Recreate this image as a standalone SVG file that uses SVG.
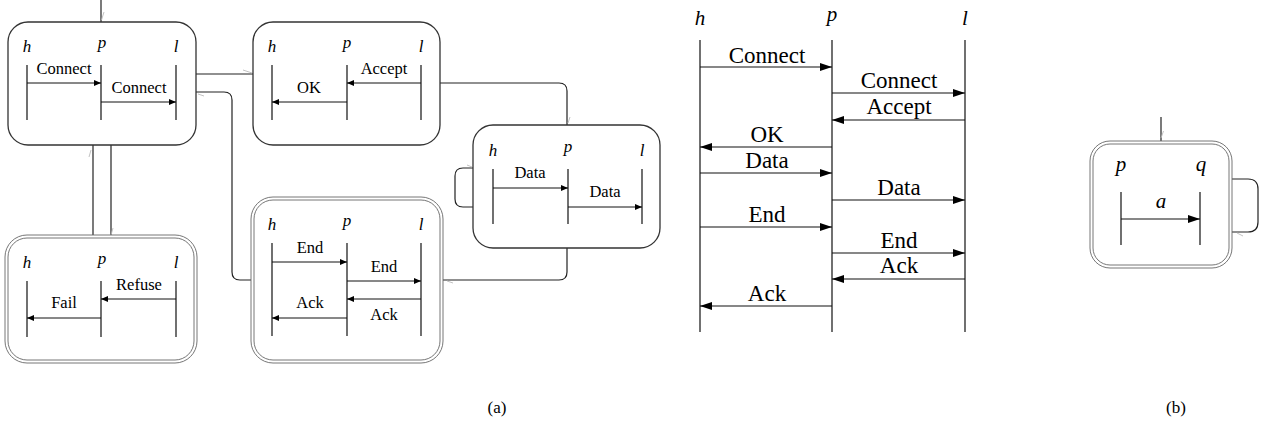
<svg xmlns="http://www.w3.org/2000/svg" width="1268" height="423" viewBox="0 0 1268 423" font-family="'Liberation Serif', 'Times New Roman', 'DejaVu Serif', serif">
  <defs>
    <marker id="ahS" markerUnits="userSpaceOnUse" markerWidth="8" markerHeight="6" refX="7" refY="3" orient="auto">
      <path d="M0,0 L7,3 L0,6 Z" fill="#000"/>
    </marker>
    <marker id="ahL" markerUnits="userSpaceOnUse" markerWidth="13" markerHeight="9" refX="12" refY="4" orient="auto">
      <path d="M0,0 L12,4 L0,8 Z" fill="#000"/>
    </marker>
    <style>
      .box { fill: #fff; stroke: #333; stroke-width: 1.3; }
      .fin { fill: none; stroke: #666; stroke-width: 0.9; }
      .life { stroke: #111; stroke-width: 1.2; }
      .msg { stroke: #111; stroke-width: 1; marker-end: url(#ahS); }
      .msgL { stroke: #111; stroke-width: 1.1; marker-end: url(#ahL); }
      .conn { fill: none; stroke: #222; stroke-width: 1.2; }
      .tip { stroke: #bbb; stroke-width: 0.9; }
      text { font-family: 'Liberation Serif', 'Times New Roman', 'DejaVu Serif', serif; fill: #000; text-anchor: middle; }
      .lbl { font-size: 16.5px; }
      .lblL { font-size: 23px; }
      .var { font-style: italic; font-size: 17px; }
      .varL { font-style: italic; font-size: 21px; }
      .cap { font-size: 17px; }
    </style>
  </defs>

  <!-- transitions between states -->
  <g id="connectors">
    <path class="conn" d="M101,0 V22"/>
    <line class="tip" x1="104" y1="12" x2="101.5" y2="20"/>
    <path class="conn" d="M196,74 H253"/>
    <line class="tip" x1="243" y1="70" x2="252" y2="73"/>
    <path class="conn" d="M196,92 H224 Q232,92 232,100 V272 Q232,280 240,280 H251"/>
    <line class="tip" x1="198" y1="94" x2="204" y2="96"/>
    <path class="conn" d="M440,83 H559 Q567,83 567,91 V125"/>
    <line class="tip" x1="570" y1="117" x2="568" y2="123"/>
    <path class="conn" d="M567,248 V272 Q567,280 559,280 H443"/>
    <line class="tip" x1="447" y1="281" x2="453" y2="283"/>
    <path class="conn" d="M93,145 V235"/>
    <line class="tip" x1="89" y1="157" x2="91" y2="150"/>
    <path class="conn" d="M111,145 V235"/>
    <line class="tip" x1="113" y1="228" x2="111" y2="235"/>
    <path class="conn" d="M473,168 H463 Q455,168 455,176 V199 Q455,207 463,207 H473"/>
    <line class="tip" x1="467" y1="165" x2="472" y2="167"/>
    <path class="conn" d="M1161,117 V141"/>
    <line class="tip" x1="1163.5" y1="131" x2="1161" y2="138"/>
    <path class="conn" d="M1232,179 H1248 Q1258,179 1258,189 V222 Q1258,232 1248,232 H1232"/>
    <line class="tip" x1="1237" y1="233" x2="1243" y2="236"/>
  </g>

  <!-- state: Connect / Connect -->
  <g id="state-connect">
    <rect class="box" x="8" y="22" width="188" height="123" rx="20"/>
    <text class="var" x="27" y="52">h</text>
    <text class="var" x="102" y="48">p</text>
    <text class="var" x="176" y="52">l</text>
    <line class="life" x1="27" y1="65" x2="27" y2="120"/>
    <line class="life" x1="101" y1="65" x2="101" y2="120"/>
    <line class="life" x1="176" y1="65" x2="176" y2="120"/>
    <line class="msg" x1="27" y1="83" x2="101" y2="83"/>
    <text class="lbl" x="64" y="74">Connect</text>
    <line class="msg" x1="101" y1="102" x2="176" y2="102"/>
    <text class="lbl" x="139" y="93">Connect</text>
  </g>

  <!-- state: Accept / OK -->
  <g id="state-accept">
    <rect class="box" x="253" y="22" width="187" height="123" rx="20"/>
    <text class="var" x="272" y="52">h</text>
    <text class="var" x="347" y="48">p</text>
    <text class="var" x="421" y="52">l</text>
    <line class="life" x1="272" y1="65" x2="272" y2="120"/>
    <line class="life" x1="347" y1="65" x2="347" y2="120"/>
    <line class="life" x1="421" y1="65" x2="421" y2="120"/>
    <line class="msg" x1="421" y1="83" x2="347" y2="83"/>
    <text class="lbl" x="384" y="74">Accept</text>
    <line class="msg" x1="347" y1="102" x2="272" y2="102"/>
    <text class="lbl" x="309" y="93">OK</text>
  </g>

  <!-- state: Data / Data -->
  <g id="state-data">
    <rect class="box" x="473" y="125" width="187" height="123" rx="20"/>
    <text class="var" x="493" y="156">h</text>
    <text class="var" x="568" y="152">p</text>
    <text class="var" x="642" y="156">l</text>
    <line class="life" x1="493" y1="169" x2="493" y2="224"/>
    <line class="life" x1="568" y1="169" x2="568" y2="224"/>
    <line class="life" x1="642" y1="169" x2="642" y2="224"/>
    <line class="msg" x1="493" y1="188" x2="568" y2="188"/>
    <text class="lbl" x="530" y="178">Data</text>
    <line class="msg" x1="568" y1="207" x2="642" y2="207"/>
    <text class="lbl" x="605" y="197">Data</text>
  </g>

  <!-- final state: Refuse / Fail -->
  <g id="state-fail">
    <rect class="fin" x="5" y="235" width="192" height="128" rx="22"/>
    <rect class="fin" x="8" y="238" width="186" height="122" rx="19"/>
    <text class="var" x="27" y="268">h</text>
    <text class="var" x="102" y="264">p</text>
    <text class="var" x="176" y="268">l</text>
    <line class="life" x1="27" y1="281" x2="27" y2="337"/>
    <line class="life" x1="101" y1="281" x2="101" y2="337"/>
    <line class="life" x1="176" y1="281" x2="176" y2="337"/>
    <line class="msg" x1="176" y1="299" x2="101" y2="299"/>
    <text class="lbl" x="139" y="290">Refuse</text>
    <line class="msg" x1="101" y1="318" x2="27" y2="318"/>
    <text class="lbl" x="64" y="308">Fail</text>
  </g>

  <!-- final state: End / End / Ack / Ack -->
  <g id="state-end">
    <rect class="fin" x="251" y="197" width="192" height="166" rx="22"/>
    <rect class="fin" x="254" y="200" width="186" height="160" rx="19"/>
    <text class="var" x="272" y="230">h</text>
    <text class="var" x="347" y="226">p</text>
    <text class="var" x="421" y="230">l</text>
    <line class="life" x1="272" y1="243" x2="272" y2="336"/>
    <line class="life" x1="347" y1="243" x2="347" y2="336"/>
    <line class="life" x1="421" y1="243" x2="421" y2="336"/>
    <line class="msg" x1="272" y1="262" x2="347" y2="262"/>
    <text class="lbl" x="310" y="253">End</text>
    <line class="msg" x1="347" y1="281" x2="421" y2="281"/>
    <text class="lbl" x="384" y="272">End</text>
    <line class="msg" x1="421" y1="299" x2="347" y2="299"/>
    <text class="lbl" x="384" y="320">Ack</text>
    <line class="msg" x1="347" y1="318" x2="272" y2="318"/>
    <text class="lbl" x="310" y="308">Ack</text>
  </g>

  <!-- full message sequence chart -->
  <g id="sequence">
    <text class="varL" x="700" y="25">h</text>
    <text class="varL" x="832" y="21">p</text>
    <text class="varL" x="965" y="25">l</text>
    <line class="life" x1="700" y1="40" x2="700" y2="332"/>
    <line class="life" x1="832" y1="40" x2="832" y2="332"/>
    <line class="life" x1="965" y1="40" x2="965" y2="332"/>
    <line class="msgL" x1="700" y1="67" x2="832" y2="67"/>
    <text class="lblL" x="767" y="63">Connect</text>
    <line class="msgL" x1="832" y1="93" x2="965" y2="93"/>
    <text class="lblL" x="899" y="88">Connect</text>
    <line class="msgL" x1="965" y1="120" x2="832" y2="120"/>
    <text class="lblL" x="899" y="114">Accept</text>
    <line class="msgL" x1="832" y1="147" x2="700" y2="147"/>
    <text class="lblL" x="767" y="142">OK</text>
    <line class="msgL" x1="700" y1="173" x2="832" y2="173"/>
    <text class="lblL" x="767" y="168">Data</text>
    <line class="msgL" x1="832" y1="200" x2="965" y2="200"/>
    <text class="lblL" x="899" y="195">Data</text>
    <line class="msgL" x1="700" y1="227" x2="832" y2="227"/>
    <text class="lblL" x="767" y="222">End</text>
    <line class="msgL" x1="832" y1="253" x2="965" y2="253"/>
    <text class="lblL" x="899" y="248">End</text>
    <line class="msgL" x1="965" y1="279" x2="832" y2="279"/>
    <text class="lblL" x="899" y="273">Ack</text>
    <line class="msgL" x1="832" y1="306" x2="700" y2="306"/>
    <text class="lblL" x="767" y="301">Ack</text>
  </g>

  <!-- single-message state with self loop -->
  <g id="state-a">
    <rect class="fin" x="1090" y="141" width="142" height="127" rx="20"/>
    <rect class="fin" x="1093" y="144" width="136" height="121" rx="17"/>
    <text class="varL" x="1121" y="171">p</text>
    <text class="varL" x="1201" y="171">q</text>
    <line class="life" x1="1121" y1="192" x2="1121" y2="245"/>
    <line class="life" x1="1200" y1="192" x2="1200" y2="245"/>
    <line class="msgL" x1="1121" y1="219" x2="1200" y2="219"/>
    <text class="varL" x="1161" y="208">a</text>
  </g>

  <g id="captions">
    <text class="cap" x="497" y="413">(a)</text>
    <text class="cap" x="1176" y="413">(b)</text>
  </g>
</svg>
